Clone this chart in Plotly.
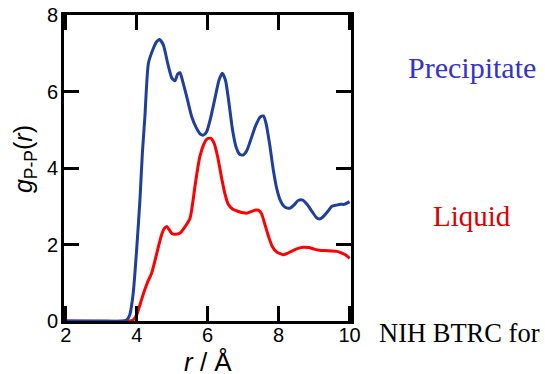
import plotly.graph_objects as go

# Precipitate g_P-P(r)
r_prec = [1.95, 3.0, 3.6, 3.72, 3.8, 3.9, 4.0, 4.09, 4.16, 4.23, 4.33, 4.47, 4.56, 4.64, 4.75, 4.87,
          4.99, 5.08, 5.15, 5.22, 5.3, 5.41, 5.55, 5.68, 5.8, 5.88, 5.97, 6.08, 6.2, 6.32, 6.41, 6.5,
          6.6, 6.7, 6.8, 6.9, 7.0, 7.1, 7.2, 7.35, 7.48, 7.57, 7.65, 7.75, 7.85, 7.95, 8.05, 8.15,
          8.25, 8.32, 8.45, 8.55, 8.68, 8.8, 8.95, 9.07, 9.16, 9.28, 9.4, 9.5, 9.63, 9.75, 9.85, 10.0]
g_prec = [0, 0, 0, 0.03, 0.15, 0.72, 1.9, 3.16, 4.4, 5.34, 6.74, 7.13, 7.3, 7.36, 7.22, 6.75,
          6.35, 6.28, 6.45, 6.49, 6.25, 5.86, 5.34, 5.05, 4.88, 4.86, 4.95, 5.3, 5.8, 6.3, 6.48, 6.3,
          5.7, 5.0, 4.55, 4.36, 4.34, 4.45, 4.7, 5.1, 5.33, 5.36, 5.15, 4.6, 3.95, 3.45, 3.15, 3.0,
          2.95, 2.95, 3.05, 3.15, 3.16, 3.05, 2.85, 2.7, 2.67, 2.75, 2.88, 3.0, 3.03, 3.05, 3.05, 3.12]

# Liquid g_P-P(r)
r_liq = [1.95, 3.8, 3.9, 4.0, 4.1, 4.19, 4.3, 4.42, 4.52, 4.61, 4.7, 4.78, 4.85, 4.92, 4.99, 5.1,
         5.22, 5.35, 5.5, 5.58, 5.64, 5.72, 5.78, 5.88, 5.97, 6.08, 6.18, 6.28, 6.38, 6.48, 6.58, 6.7,
         6.85, 7.0, 7.1, 7.22, 7.35, 7.43, 7.52, 7.62, 7.72, 7.82, 7.95, 8.05, 8.13, 8.25, 8.4, 8.55,
         8.69, 8.85, 9.0, 9.15, 9.3, 9.5, 9.63, 9.75, 9.88, 10.0]
g_liq = [0, 0, 0.03, 0.16, 0.45, 0.72, 1.0, 1.25, 1.6, 1.94, 2.25, 2.42, 2.47, 2.38, 2.29, 2.27,
         2.3, 2.45, 2.68, 3.1, 3.51, 4.0, 4.3, 4.6, 4.75, 4.78, 4.65, 4.3, 3.8, 3.35, 3.05, 2.93,
         2.87, 2.83, 2.82, 2.86, 2.9, 2.9, 2.8, 2.5, 2.2, 1.95, 1.8, 1.76, 1.73, 1.77, 1.84, 1.9,
         1.93, 1.92, 1.88, 1.85, 1.84, 1.83, 1.82, 1.79, 1.73, 1.64]

x_ticks = [2, 4, 6, 8, 10]
y_ticks = [0, 2, 4, 6, 8]

fig = go.Figure()
fig.add_trace(go.Scatter(x=r_liq, y=g_liq, mode="lines", name="Liquid",
                         line=dict(color="#ff0000", width=3, shape="spline", smoothing=0.6)))
fig.add_trace(go.Scatter(x=r_prec, y=g_prec, mode="lines", name="Precipitate",
                         line=dict(color="#1f3f9f", width=3, shape="spline", smoothing=0.6)))

axis_common = dict(showline=True, linecolor="black", linewidth=3, mirror="ticks",
                   ticks="inside", ticklen=15, tickwidth=3, tickcolor="black",
                   showgrid=False, zeroline=False, automargin=False,
                   ticklabeloverflow="allow",
                   tickfont=dict(family="Arial, Liberation Sans", size=20, color="black"))

fig.update_xaxes(range=[1.95, 10.04], tickvals=x_ticks, ticktext=[str(v) for v in x_ticks],
                 ticklabelstandoff=-6, **axis_common)
fig.update_yaxes(range=[0, 8], tickvals=y_ticks, ticktext=[str(v) for v in y_ticks],
                 ticklabelstandoff=-1, **axis_common)

# axis titles placed as annotations to match the reference positions
fig.add_annotation(text="<i>r</i> / Å", xref="paper", yref="paper",
                   x=0.502, y=-0.133, xanchor="center", yanchor="middle", showarrow=False,
                   font=dict(family="Arial, Liberation Sans", size=26, color="black"))
fig.add_annotation(text="<i>g</i><sub>P-P</sub>(<i>r</i>)", xref="paper", yref="paper",
                   x=-0.136, y=0.529, xanchor="center", yanchor="middle", textangle=-90,
                   showarrow=False,
                   font=dict(family="Arial, Liberation Sans", size=25, color="black"))

fig.add_annotation(text="Precipitate", xref="paper", yref="paper", x=1.422, y=0.827,
                   xanchor="center", yanchor="middle", showarrow=False,
                   font=dict(family="Times New Roman, Liberation Serif", size=30, color="#3333cc"))
fig.add_annotation(text="Liquid", xref="paper", yref="paper", x=1.422, y=0.343,
                   xanchor="center", yanchor="middle", showarrow=False,
                   font=dict(family="Times New Roman, Liberation Serif", size=29, color="#dd0000"))
fig.add_annotation(text="NIH BTRC for", xref="paper", yref="paper", x=1.09, y=-0.039,
                   xanchor="left", yanchor="middle", showarrow=False,
                   font=dict(family="Times New Roman, Liberation Serif", size=26.5, color="black"))

fig.update_layout(width=545, height=374, margin=dict(l=64, r=194, t=15, b=53),
                  paper_bgcolor="white", plot_bgcolor="white", showlegend=False)

# remove the browser's default 8px body margin so the figure fills the window
fig.write_html("out.html", config={"displayModeBar": False},
               post_script="document.body.style.margin='0';")
